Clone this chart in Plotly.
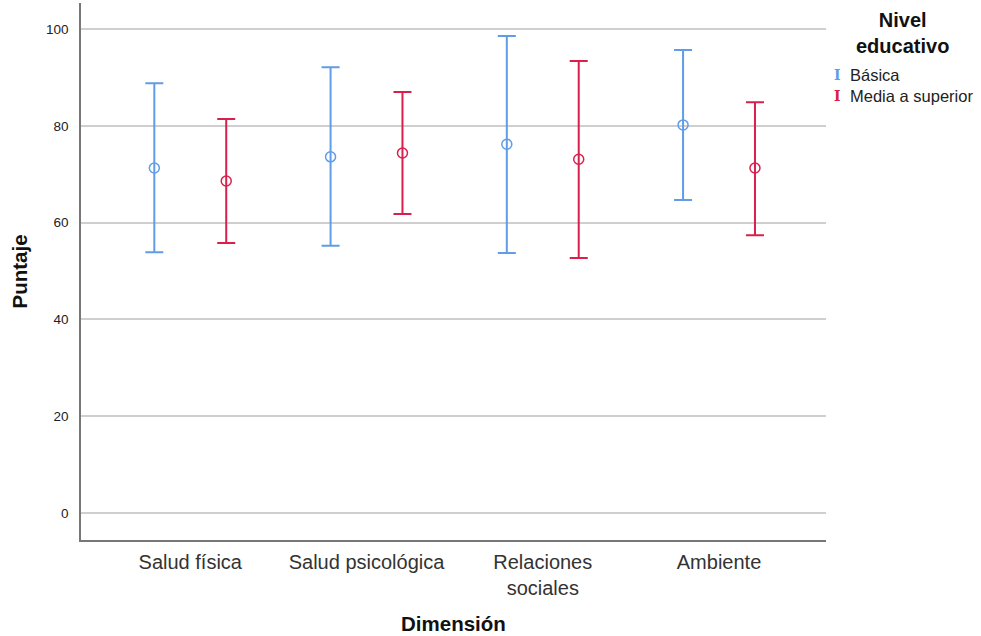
import plotly.graph_objects as go

categories = ["Salud física", "Salud psicológica", "Relaciones<br>sociales", "Ambiente"]
groups = ["Básica", "Media a superior"]
mean_basica = [71.3, 73.6, 76.2, 80.2]
upper_basica = [88.8, 92.1, 98.6, 95.7]
lower_basica = [53.9, 55.2, 53.7, 64.7]
mean_media = [68.6, 74.4, 73.1, 71.3]
upper_media = [81.4, 87.0, 93.4, 84.9]
lower_media = [55.8, 61.8, 52.7, 57.4]
y_ticks = [0, 20, 40, 60, 80, 100]

colors = ["#5f9de8", "#d8204c"]
offset = 0.204

fig = go.Figure()
series = [(mean_basica, upper_basica, lower_basica), (mean_media, upper_media, lower_media)]
for gi, (name, (m, u, l)) in enumerate(zip(groups, series)):
    xs = [i + (-offset if gi == 0 else offset) for i in range(len(categories))]
    fig.add_trace(go.Scatter(
        x=xs, y=m, mode="markers", name=name, showlegend=False,
        marker=dict(symbol="circle-open", size=10, color=colors[gi], line=dict(width=1.5)),
        error_y=dict(type="data", symmetric=False,
                     array=[a - b for a, b in zip(u, m)],
                     arrayminus=[b - c for b, c in zip(m, l)],
                     color=colors[gi], thickness=2, width=9),
    ))

# legend drawn as annotations (I-beam glyph like the reference)
ann = [dict(text="<b>Nivel<br>educativo</b>", xref="paper", yref="paper", x=1.103, y=0.944,
            xanchor="center", yanchor="middle", showarrow=False, align="center",
            font=dict(size=20, color="#111"))]
for gi, name in enumerate(groups):
    yy = 0.866 - gi * 0.039
    ann.append(dict(text="<b>I</b>", xref="paper", yref="paper", x=1.0148, y=yy,
                    xanchor="center", yanchor="middle", showarrow=False,
                    font=dict(size=14, color=colors[gi], family="DejaVu Serif")))
    ann.append(dict(text=name, xref="paper", yref="paper", x=1.030, y=yy,
                    xanchor="left", yanchor="middle", showarrow=False,
                    font=dict(size=16.5, color="#222")))
# axis titles
ann.append(dict(text="<b>Dimensión</b>", xref="paper", yref="paper", x=0.5, y=-0.156,
                xanchor="center", yanchor="middle", showarrow=False, font=dict(size=20.5, color="#111")))
ann.append(dict(text="<b>Puntaje</b>", xref="paper", yref="paper", x=-0.0819, y=0.5, textangle=-90,
                xanchor="center", yanchor="middle", showarrow=False, font=dict(size=20.5, color="#111")))

fig.update_layout(
    width=981, height=636,
    margin=dict(l=81, r=155, t=3, b=96, autoexpand=False),
    plot_bgcolor="white", paper_bgcolor="white",
    showlegend=False,
    annotations=ann,
    font=dict(family="Liberation Sans, Arial, sans-serif", color="#222"),
    xaxis=dict(range=[-0.62, 3.607], tickvals=list(range(len(categories))), ticktext=categories,
               showgrid=False, zeroline=False, showline=True, linecolor="#777", linewidth=1.5,
               ticks="", tickfont=dict(size=20, color="#333"), ticklabelstandoff=3),
    yaxis=dict(range=[-5.6, 105.4], tickvals=y_ticks, showgrid=True, gridcolor="#cfcfcf", gridwidth=1.5,
               zeroline=False, showline=True, linecolor="#777", linewidth=1.5, ticks="",
               tickfont=dict(size=13.5, color="#222"), ticklabelstandoff=8),
)

fig.write_html("out.html", post_script="document.body.style.margin='0';",
               config={"displayModeBar": False})
